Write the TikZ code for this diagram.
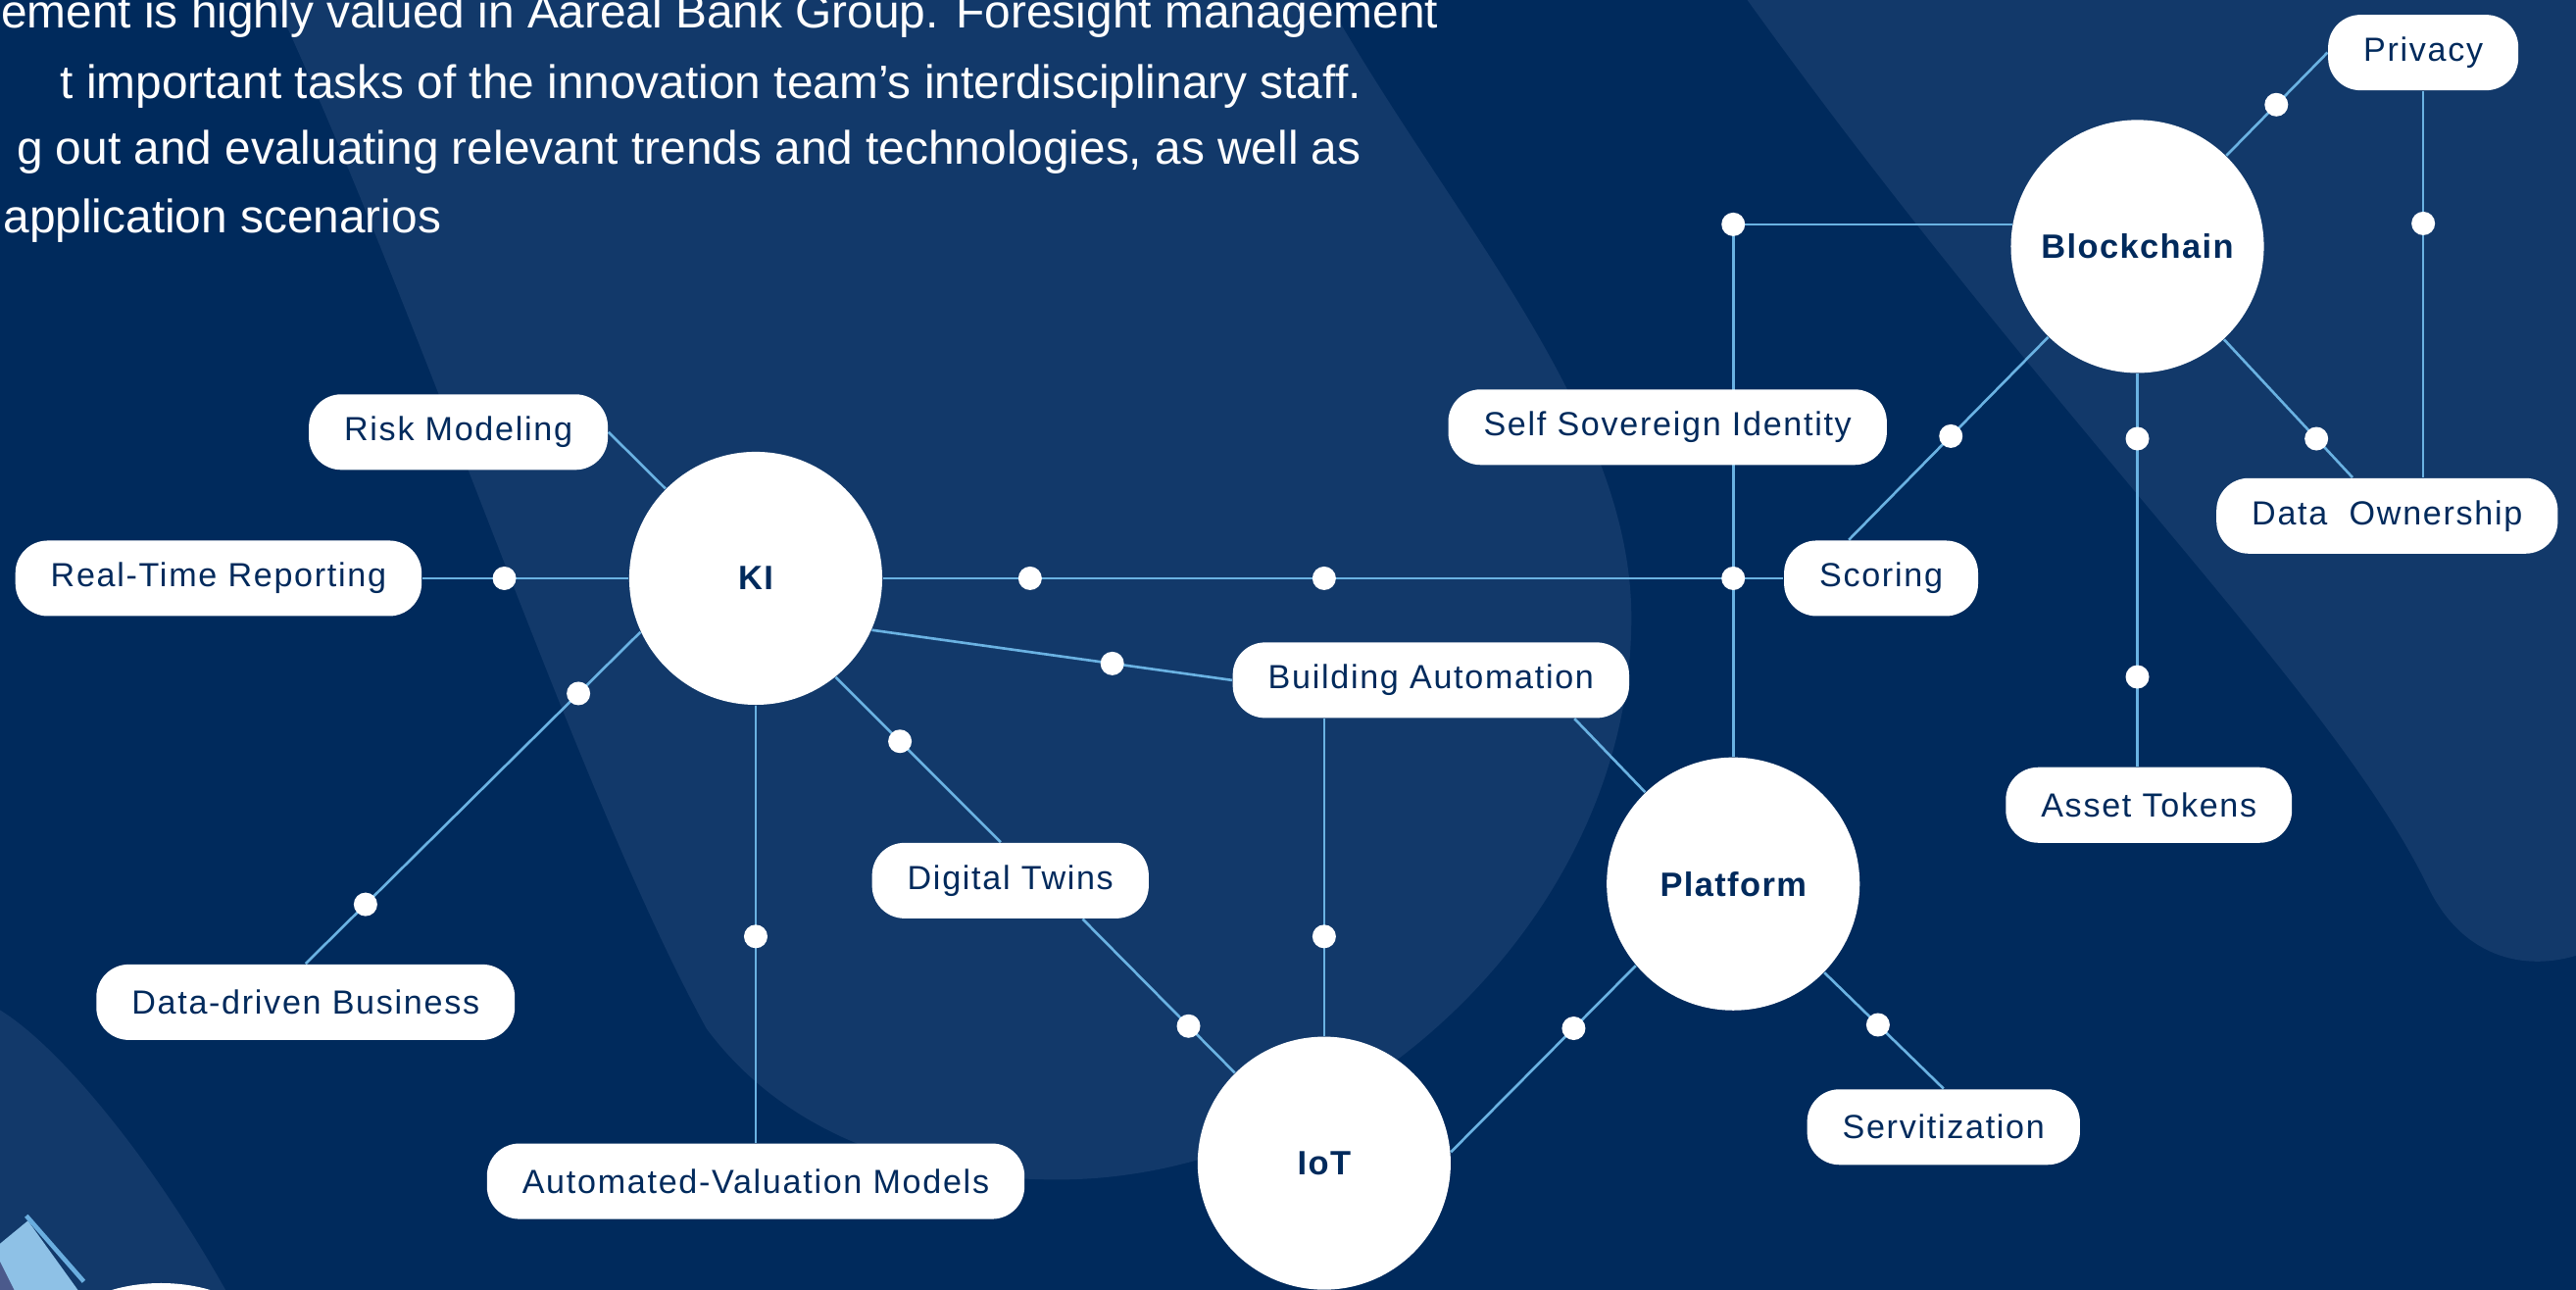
\documentclass[tikz,border=0pt]{standalone}
\usepackage{fontspec}
\setmainfont{Liberation Sans}
\newfontfamily\tagfont{Liberation Sans}[LetterSpace=5]
\newfontfamily\hubfont{Liberation Sans}[LetterSpace=4]
\usetikzlibrary{calc}

\definecolor{navy}{HTML}{002A5C}
\definecolor{blobblue}{HTML}{12396A}
\definecolor{linkblue}{HTML}{6AB2E2}
\definecolor{devlight}{HTML}{8EC1E6}
\definecolor{devedge}{HTML}{6AAEDF}
\definecolor{devdark}{HTML}{4B5A8C}

\pgfdeclarelayer{bg}
\pgfdeclarelayer{edges}
\pgfsetlayers{bg,edges,main}

\begin{document}
\begin{tikzpicture}[x=0.01676cm, y=-0.01676cm,
  hub/.style={circle, fill=white, inner sep=0pt, minimum size=2.58cm, text=navy,
    font=\hubfont\bfseries\fontsize{9.8}{12}\selectfont},
  tag/.style={rectangle, rounded corners=0.33cm, fill=white, minimum height=0.77cm,
    inner xsep=0.36cm, text=navy, font=\tagfont\fontsize{9.7}{12}\selectfont},
  dot/.style={circle, fill=white, inner sep=0pt, minimum size=0.24cm},
  link/.style={draw=linkblue, line width=0.75pt},
  lead/.style={text=white, inner sep=0pt, anchor=base east, font=\fontsize{13.6}{16}\selectfont}]

\useasboundingbox (0,0) rectangle (1568,785);

\begin{pgfonlayer}{bg}
\fill[navy] (0,0) rectangle (1568,785);
\fill[blobblue] (165,-5) -- (805,-5) .. controls (880,130) and (993,250) .. (993,376)
  .. controls (993,560) and (820,718) .. (644,718) .. controls (540,718) and (470,680) .. (430,626)
  .. controls (350,480) and (260,200) .. (165,-5) -- cycle;
\fill[blobblue] (1060,-5) .. controls (1250,260) and (1420,420) .. (1478,540)
  .. controls (1500,585) and (1540,592) .. (1573,580) -- (1573,-5) -- cycle;
\fill[blobblue] (-5,612) .. controls (30,630) and (90,700) .. (140,790) -- (-5,790) -- cycle;
\fill[devlight] (0,757) -- (17,743) -- (48,786) -- (0,786) -- cycle;
\fill[devdark] (0,768) -- (9,786) -- (0,786) -- cycle;
\draw[devedge, line width=1.3pt] (16,740) -- (51,780);
\fill[white] (98,822) ellipse [x radius=68, y radius=41];
\end{pgfonlayer}

\node[lead] (l1) at (876,17) {ement is highly valued in Aareal Bank Group. Foresight management};
\node[lead] (l2) at (829,60) {t important tasks of the innovation team’s interdisciplinary staff.};
\node[lead] (l3) at (829,100) {g out and evaluating relevant trends and technologies, as well as};
\node[lead] (l4) at (269,142) {application scenarios};

\node[hub] (KI) at (460,352) {KI};
\node[hub] (BC) at (1301,150) {Blockchain};
\node[hub] (Plat) at (1055,538) {Platform};
\node[hub] (IoT) at (806,708) {IoT};

\node[tag] (Priv) at (1475,32) {Privacy};
\node[tag] (RiskM) at (279,263) {Risk Modeling};
\node[tag] (RTR) at (133,352) {Real-Time Reporting};
\node[tag] (SSI) at (1015,260) {Self Sovereign Identity};
\node[tag] (Sc) at (1145,352) {Scoring};
\node[tag] (DO) at (1453,314) {Data\ \ Ownership};
\node[tag] (BA) at (871,414) {Building Automation};
\node[tag] (AT) at (1308,490) {Asset Tokens};
\node[tag] (DT) at (615,536) {Digital Twins};
\node[tag] (DDB) at (186,610) {Data-driven Business};
\node[tag] (Serv) at (1183,686) {Servitization};
\node[tag] (AVM) at (460,719) {Automated-Valuation Models};

\begin{pgfonlayer}{edges}
\draw[link] (RTR) -- (KI);
\draw[link] (KI) -- (RiskM.east);
\draw[link] (KI) -- (Sc);
\draw[link] (KI.-24) -- (BA.west);
\draw[link] (KI.-51) -- (DT.104);
\draw[link] (KI.-155) -- (DDB.north);
\draw[link] (KI) -- (AVM);
\draw[link] (IoT |- BA.south) -- (IoT);
\draw[link] (BA.-15) -- (Plat);
\draw[link] (DT.-28) -- (IoT);
\draw[link] (IoT.5) -- (Plat.-140);
\draw[link] (Plat) -- (Serv.north);
\draw[link] (BC.170) -| (Plat);
\draw[link] (BC) -- (Priv.west);
\draw[link] (Priv) -- (Priv |- DO.north);
\draw[link] (BC) -- (Sc.130);
\draw[link] (BC) -- (BC |- AT.north);
\draw[link] (BC) -- (DO.132);
\end{pgfonlayer}

\node[dot] (d1) at (307,352) {};
\node[dot] (d2) at (627,352) {};
\node[dot] (d3) at (806,352) {};
\node[dot] (d4) at (1055,352) {};
\node[dot] (d5) at (BC.170 -| Plat) {};
\node[dot] (d6) at (1301,267) {};
\node[dot] (d7) at (1301,412) {};
\node[dot] (d8) at (1475,136) {};
\node[dot] (d9) at (460,570) {};
\node[dot] (d10) at (806,570) {};
\node[dot] (d11) at ($(KI.-155)!(352,422)!(DDB.north)$) {};
\node[dot] (d12) at ($(KI.-155)!(223,551)!(DDB.north)$) {};
\node[dot] (d13) at ($(KI.-24)!(677,404)!(BA.west)$) {};
\node[dot] (d14) at ($(KI.-51)!(547,452)!(DT.104)$) {};
\node[dot] (d15) at ($(DT.-28)!(722,626)!(IoT)$) {};
\node[dot] (d16) at ($(IoT.5)!(958,626)!(Plat.-140)$) {};
\node[dot] (d17) at ($(Plat)!(1141,626)!(Serv.north)$) {};
\node[dot] (d18) at ($(BC)!(1390,68)!(Priv.west)$) {};
\node[dot] (d19) at ($(BC)!(1189,267)!(Sc.130)$) {};
\node[dot] (d20) at ($(BC)!(1410,267)!(DO.132)$) {};

\end{tikzpicture}
\end{document}
